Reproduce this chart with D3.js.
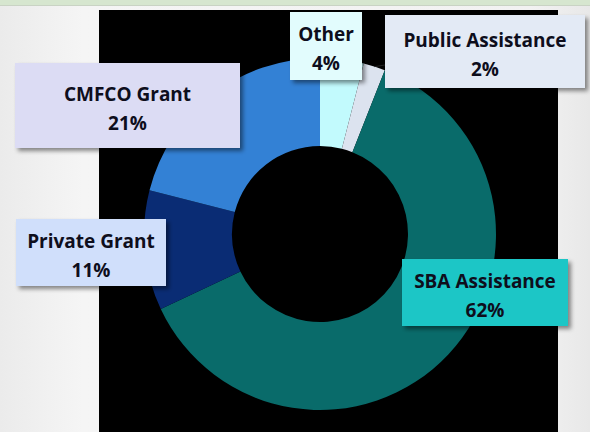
<!DOCTYPE html>
<html>
<head>
<meta charset="utf-8">
<title>Funding sources</title>
<script src="https://cdn.jsdelivr.net/npm/d3@7/dist/d3.min.js"></script>
<style>
  html, body { margin: 0; padding: 0; background: #ececec; }
  svg { display: block; }
  .lbl { font-family: "Open Sans", Lato, sans-serif; font-weight: bold; font-size: 19px; fill: #0e0e1c; }
</style>
</head>
<body>
<svg id="chart" width="590" height="432"></svg>
<script>
// slices, clockwise from 12 o'clock
var categories = ["Other", "Public Assistance", "SBA Assistance", "Private Grant", "CMFCO Grant"];
var shares = [4, 2, 62, 11, 21];
var sliceColors = ["#c2fafd", "#dce3ef", "#096b6a", "#0a2c74", "#3381d5"];
var boxColors = ["#e2fcfd", "#e3eaf5", "#1ec6c6", "#d0dffb", "#dcdcf4"];

// label box placement (left, top, width, height)
var boxes = [
  [290, 12, 72, 68],
  [385, 15, 200, 73],
  [402, 259, 166, 67],
  [16, 219, 150, 67],
  [15, 63, 225, 85]
];

var W = 590, H = 432;
var svg = d3.select("#chart");

var defs = svg.append("defs");
var bg = defs.append("linearGradient").attr("id", "bg").attr("x1", 0).attr("x2", 1);
bg.append("stop").attr("offset", "0").attr("stop-color", "#ebebeb");
bg.append("stop").attr("offset", "0.14").attr("stop-color", "#f5f5f5");
bg.append("stop").attr("offset", "0.9").attr("stop-color", "#f2f2f2");
bg.append("stop").attr("offset", "1").attr("stop-color", "#e8e8e8");

defs.append("filter").attr("id", "shadow")
  .attr("x", "-10%").attr("y", "-10%").attr("width", "130%").attr("height", "140%")
  .append("feDropShadow")
  .attr("dx", 3).attr("dy", 3).attr("stdDeviation", 2)
  .attr("flood-color", "#000").attr("flood-opacity", 0.45);

svg.append("rect").attr("width", W).attr("height", H).attr("fill", "url(#bg)");
svg.append("rect").attr("width", W).attr("height", 5).attr("fill", "#d6e6cf");
svg.append("rect").attr("y", 5).attr("width", W).attr("height", 1).attr("fill", "#c9d3c4");

// black plot area
svg.append("rect").attr("x", 99).attr("y", 10).attr("width", 459).attr("height", H - 10).attr("fill", "#000");

var cx = 320, cy = 234;
var pie = d3.pie().sort(null).value(function(d) { return d; });
var arc = d3.arc().innerRadius(88).outerRadius(176);
var arcs = pie(shares);

var g = svg.append("g").attr("transform", "translate(" + cx + "," + cy + ")");
g.selectAll("path")
  .data(arcs)
  .enter()
  .append("path")
  .attr("d", arc)
  .attr("fill", function(d, i) { return sliceColors[i]; });

// short leader for the small slice
var pa = d3.arc().innerRadius(176).outerRadius(176).centroid(arcs[1]);
svg.append("line")
  .attr("x1", cx + pa[0]).attr("y1", cy + pa[1])
  .attr("x2", boxes[1][0]).attr("y2", boxes[1][1] + 50)
  .attr("stroke", "#222").attr("stroke-width", 1);

var lab = svg.selectAll("g.box")
  .data(categories)
  .enter()
  .append("g")
  .attr("class", "box");

lab.append("rect")
  .attr("x", function(d, i) { return boxes[i][0]; })
  .attr("y", function(d, i) { return boxes[i][1]; })
  .attr("width", function(d, i) { return boxes[i][2]; })
  .attr("height", function(d, i) { return boxes[i][3]; })
  .attr("fill", function(d, i) { return boxColors[i]; })
  .attr("filter", "url(#shadow)");

lab.append("text")
  .attr("class", "lbl")
  .attr("text-anchor", "middle")
  .attr("x", function(d, i) { return boxes[i][0] + boxes[i][2] / 2; })
  .attr("y", function(d, i) { return boxes[i][1] + boxes[i][3] / 2 - 5; })
  .text(function(d) { return d; });

lab.append("text")
  .attr("class", "lbl")
  .attr("text-anchor", "middle")
  .attr("x", function(d, i) { return boxes[i][0] + boxes[i][2] / 2; })
  .attr("y", function(d, i) { return boxes[i][1] + boxes[i][3] / 2 + 24; })
  .text(function(d, i) { return shares[i] + "%"; });
</script>
</body>
</html>
